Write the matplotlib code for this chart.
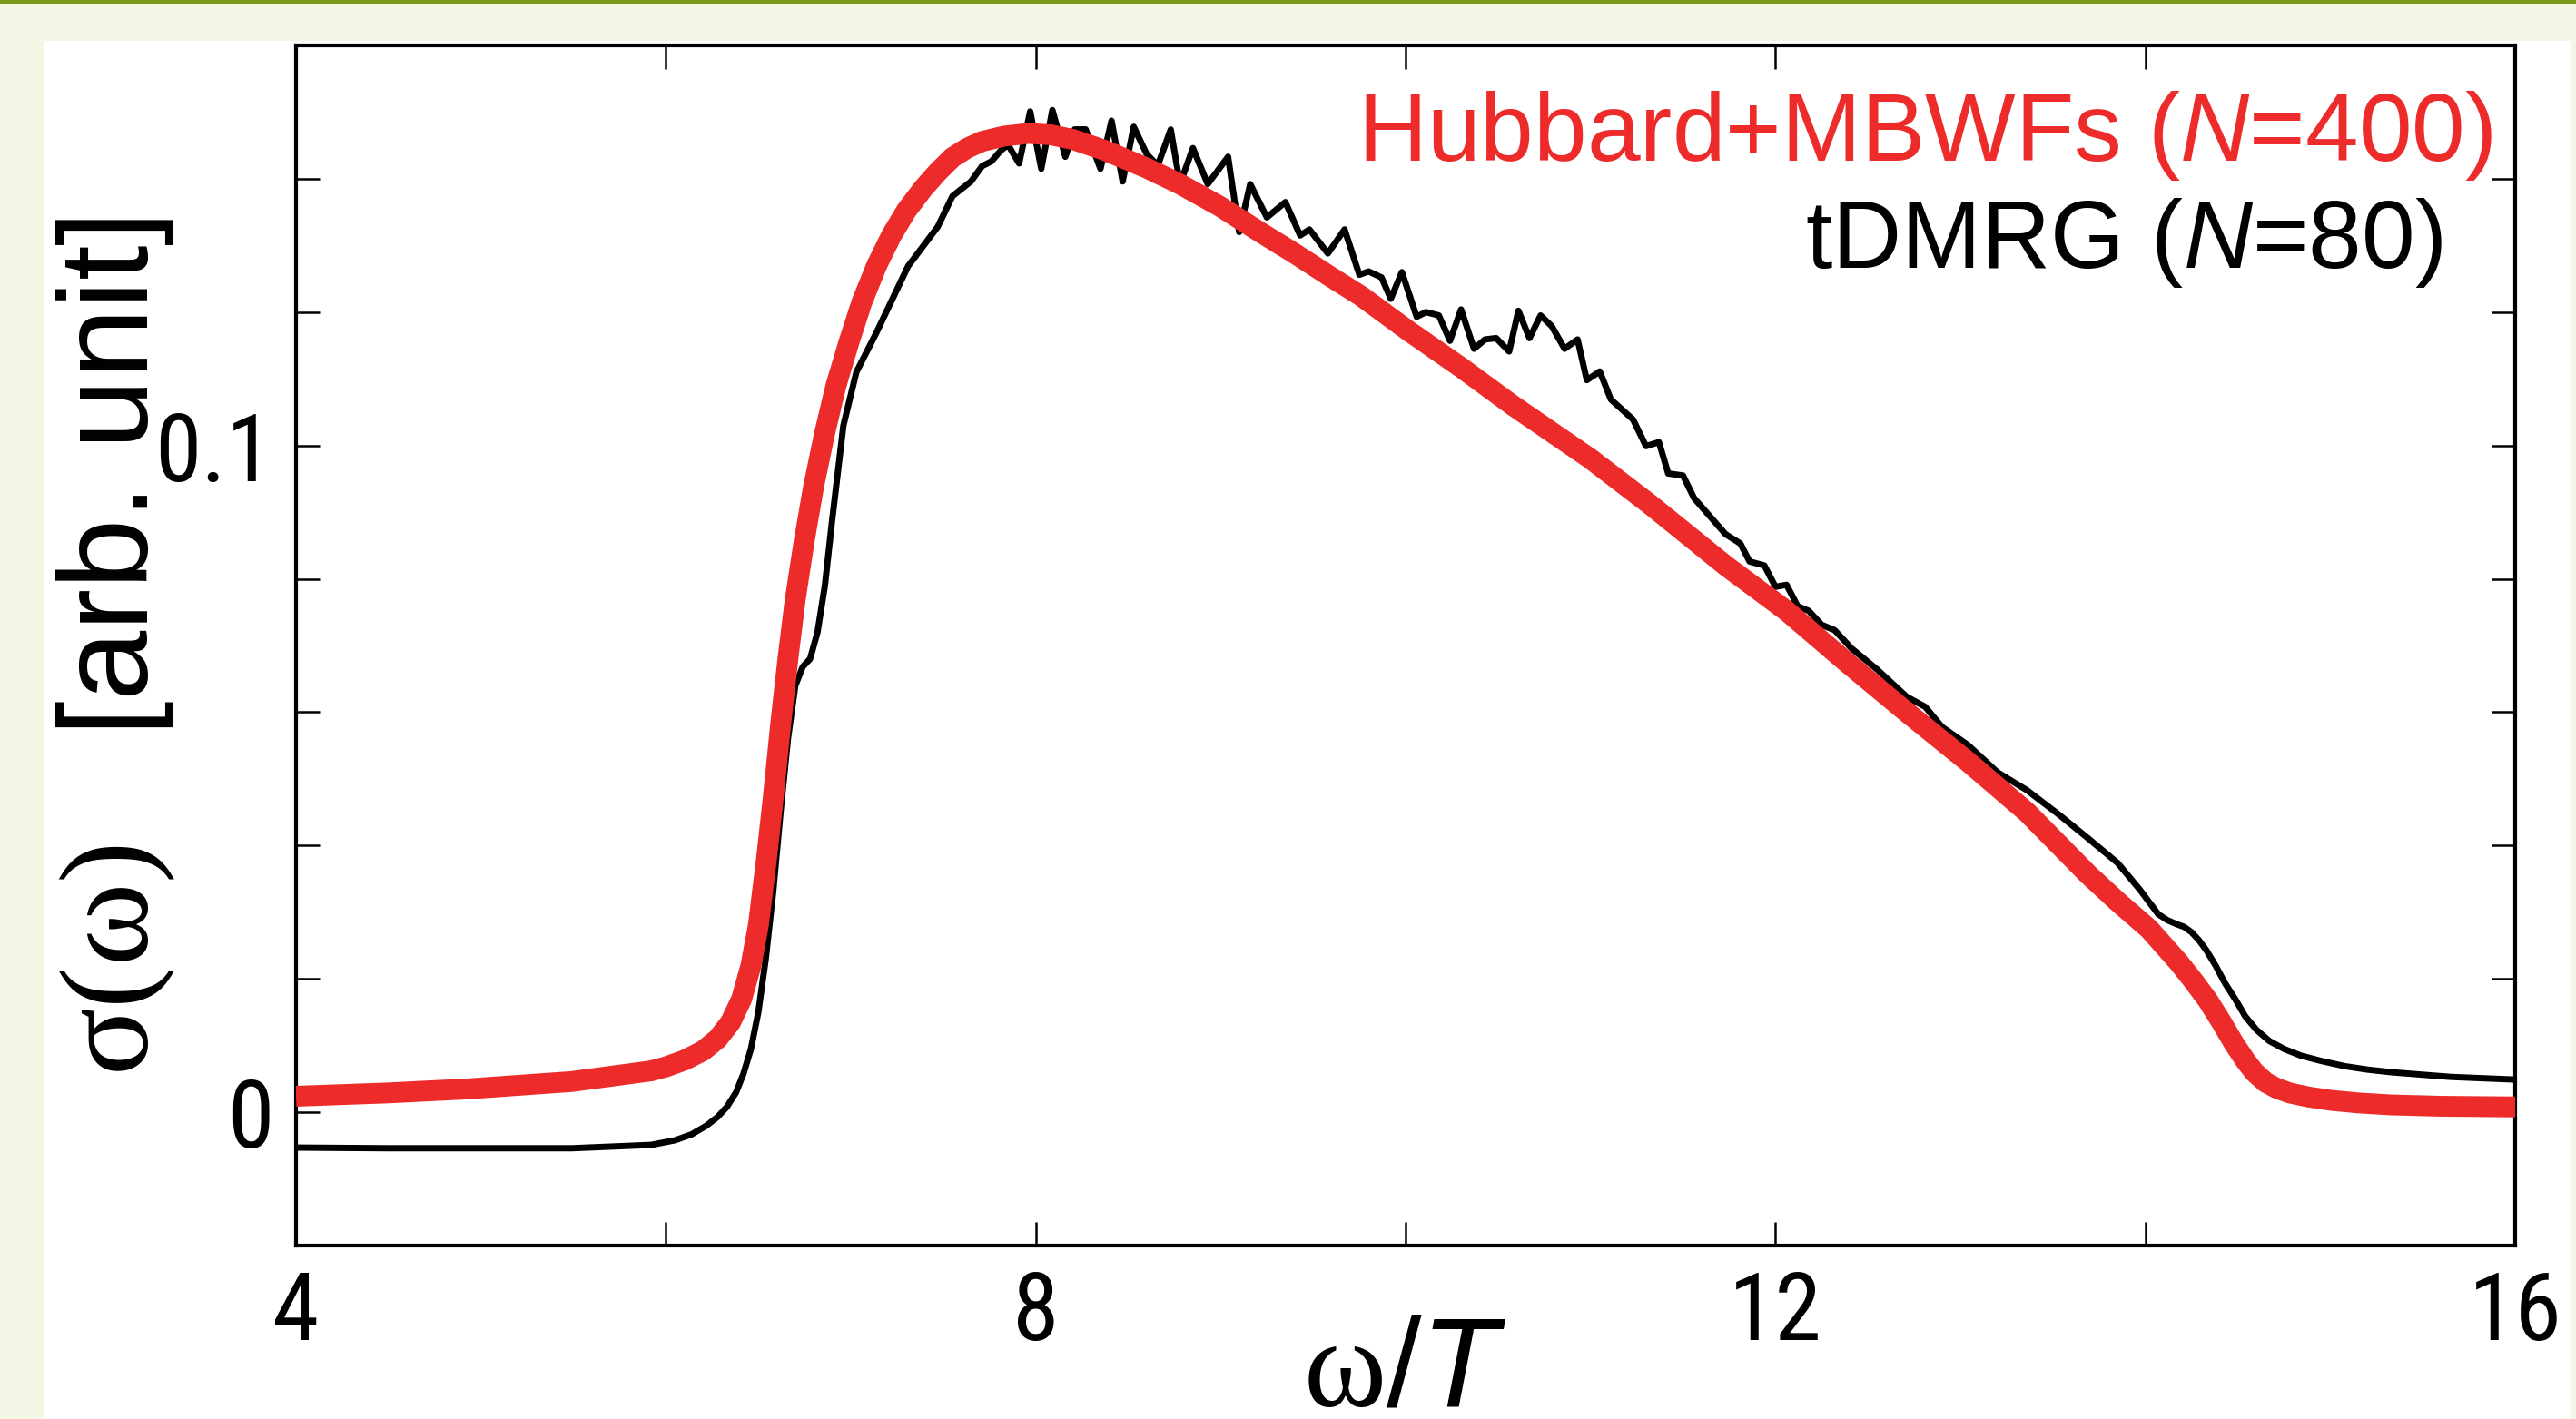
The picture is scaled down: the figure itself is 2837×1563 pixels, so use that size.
import matplotlib
matplotlib.use("Agg")
import matplotlib.pyplot as plt
from matplotlib import font_manager as fm
from matplotlib.patches import Rectangle
from matplotlib.ticker import FixedLocator, NullFormatter

# ---------------- data ----------------
hub_w = [4.0, 4.5, 4.93, 5.49, 5.92, 6.0, 6.1, 6.2, 6.28, 6.35, 6.41, 6.46, 6.50,
         6.54, 6.58, 6.62, 6.66, 6.70, 6.75, 6.80, 6.86, 6.92, 6.99, 7.06, 7.14,
         7.22, 7.30, 7.39, 7.47, 7.55, 7.63, 7.71, 7.83, 7.96, 8.08, 8.2, 8.37,
         8.6, 8.78, 9.0, 9.19, 9.4, 9.60, 9.76, 10.01, 10.3, 10.58, 11.0, 11.32,
         11.73, 12.06, 12.38, 12.71, 13.04, 13.36, 13.69, 13.85, 14.02, 14.18,
         14.26, 14.34, 14.41, 14.48, 14.54, 14.59, 14.65, 14.71, 14.78, 14.88,
         15.0, 15.15, 15.33, 15.6, 16.0]
hub_s = [0.0024, 0.0029, 0.0035, 0.0046, 0.0062, 0.0068, 0.0078, 0.0092, 0.0110,
         0.0135, 0.0170, 0.0220, 0.0280, 0.0370, 0.0470, 0.0580, 0.0680, 0.0770,
         0.0860, 0.0940, 0.1020, 0.1090, 0.1155, 0.1215, 0.1270, 0.1315, 0.1352,
         0.1385, 0.1410, 0.1432, 0.1446, 0.1456, 0.1464, 0.1468, 0.1466, 0.1459,
         0.1443, 0.1416, 0.1392, 0.1358, 0.1324, 0.1288, 0.1252, 0.1224, 0.1173,
         0.1117, 0.1060, 0.0980, 0.0912, 0.0820, 0.0752, 0.0676, 0.0600, 0.0526,
         0.0450, 0.0357, 0.0316, 0.0275, 0.0225, 0.0197, 0.0167, 0.0136, 0.0103,
         0.0078, 0.0060, 0.0045, 0.0036, 0.0029, 0.0023, 0.0018, 0.0014, 0.0011,
         0.0009, 0.0008]

dmrg_w = [4.0, 4.5, 5.0, 5.49, 5.92, 6.05, 6.14, 6.22, 6.28, 6.33, 6.38, 6.42,
          6.46, 6.50, 6.54, 6.58, 6.62, 6.66, 6.70, 6.74, 6.78, 6.82, 6.86, 6.90,
          6.96, 7.03, 7.14, 7.31, 7.47, 7.55,
          7.65, 7.71, 7.76, 7.81, 7.85, 7.91, 7.97, 8.03, 8.09, 8.16, 8.21, 8.27,
          8.35, 8.41, 8.47, 8.53, 8.60, 8.66, 8.73, 8.78, 8.85, 8.93, 9.04, 9.10,
          9.16, 9.25, 9.35, 9.43, 9.48, 9.58, 9.67, 9.75, 9.80, 9.87, 9.92, 9.98,
          10.06, 10.11, 10.18, 10.24, 10.30, 10.37, 10.43, 10.49, 10.56, 10.61,
          10.67, 10.73, 10.79, 10.86, 10.93, 10.98, 11.05, 11.11, 11.23, 11.30,
          11.37, 11.42, 11.50, 11.56, 11.73, 11.81, 11.86, 11.94, 12.00, 12.06,
          12.12, 12.18, 12.25, 12.32, 12.41, 12.55, 12.71, 12.81, 12.90, 13.04,
          13.20, 13.36, 13.53, 13.69, 13.85, 13.97, 14.07, 14.12, 14.17, 14.21,
          14.25, 14.29, 14.33, 14.38, 14.43, 14.49, 14.54, 14.60, 14.67, 14.75,
          14.84, 14.95, 15.08, 15.2, 15.33, 15.65, 16.0]
dmrg_s = [-0.0053, -0.0054, -0.0054, -0.0054, -0.0049, -0.0042, -0.0033, -0.0020,
          -0.0007, 0.0008, 0.0030, 0.0058, 0.0095, 0.0150, 0.0230, 0.0330, 0.0450,
          0.0560, 0.0640, 0.0668, 0.0680, 0.0720, 0.0790, 0.0890, 0.1030, 0.1110,
          0.1170, 0.1269, 0.1328, 0.1374,
          0.1396, 0.1419, 0.1426, 0.1442, 0.1451, 0.1423, 0.1501, 0.1415, 0.1503,
          0.1433, 0.1474, 0.1474, 0.1415, 0.1487, 0.1396, 0.1478, 0.1437, 0.1420,
          0.1474, 0.1392, 0.1446, 0.1392, 0.1433, 0.1320, 0.1392, 0.1342, 0.1365,
          0.1315, 0.1324, 0.1288, 0.1324, 0.1256, 0.1261, 0.1252, 0.1220, 0.1260,
          0.1193, 0.1200, 0.1195, 0.1157, 0.1204, 0.1145, 0.1159, 0.1161, 0.1141,
          0.1202, 0.1161, 0.1195, 0.1179, 0.1145, 0.1159, 0.1098, 0.1111, 0.1069,
          0.1039, 0.0999, 0.1005, 0.0958, 0.0955, 0.0921, 0.0867, 0.0853, 0.0826,
          0.0820, 0.0788, 0.0791, 0.0759, 0.0752, 0.0731, 0.0723, 0.0696, 0.0664,
          0.0623, 0.0608, 0.0578, 0.0551, 0.0510, 0.0483, 0.0447, 0.0411, 0.0374,
          0.0334, 0.0297, 0.0288, 0.0282, 0.0278, 0.0270, 0.0258, 0.0243, 0.0220,
          0.0194, 0.0168, 0.0144, 0.0124, 0.0107, 0.0095, 0.0085, 0.0077, 0.0069,
          0.0064, 0.0060, 0.0053, 0.0049]

x_major = [4, 8, 12, 16]
x_minor = [6, 10, 14]
y_major = [0, 0.1]
y_major_labels = ["0", "0.1"]
y_minor = [0.02, 0.04, 0.06, 0.08, 0.12, 0.14]
label_hub = r"Hubbard+MBWFs ($\mathit{N}$=400)"
label_dmrg = r"tDMRG ($\mathit{N}$=80)"
xlabel = r"$\mathrm{\omega}\mathsf{/}\mathit{T}$"
ylabel = r"$\mathrm{\sigma(\omega)}$   [arb. unit]"

# ---------------- style ----------------
RED = "#EC2B2A"
plt.rcParams["mathtext.fontset"] = "custom"
plt.rcParams["mathtext.rm"] = "Liberation Serif"
plt.rcParams["mathtext.it"] = "Liberation Sans:italic"
plt.rcParams["mathtext.sf"] = "Liberation Sans"
plt.rcParams["font.family"] = ["Liberation Sans", "DejaVu Sans"]


def find_narrow():
    prefs = ["liberation sans narrow", "roboto condensed", "open sans condensed",
             "noto sans condensed"]
    found = {}
    for f in fm.fontManager.ttflist:
        key = f.name.lower()
        fn = f.fname.lower()
        if f.style != "normal" or f.weight not in (400, "normal", "regular"):
            continue
        if "bold" in fn or "italic" in fn or "light" in fn or "medium" in fn:
            continue
        for p in prefs:
            if key == p or p.replace(" ", "") in fn.replace("-", "").replace("_", ""):
                found.setdefault(p, f.fname)
    for p in prefs:
        if p in found:
            return found[p]
    return None


narrow = find_narrow()
if narrow:
    tick_fp = fm.FontProperties(fname=narrow, size=75)
else:
    tick_fp = fm.FontProperties(family="Liberation Sans", size=70)

W, H = 2837, 1563
fig = plt.figure(figsize=(W / 100, H / 100), dpi=100)
fig.patch.set_facecolor("#F1F6E5")
fig.patches.append(Rectangle((48 / W, 0), (2832 - 48) / W, (H - 45) / H,
                             transform=fig.transFigure, facecolor="white",
                             edgecolor="none", zorder=-2))
fig.patches.append(Rectangle((0, 1 - 4 / H), 1, 4 / H, transform=fig.transFigure,
                             facecolor="#7A9A1F", edgecolor="none", zorder=-2))

ax = fig.add_axes([326 / W, (H - 1372) / H, (2770 - 326) / W, (1372 - 50) / H])
ax.set_facecolor("white")

ax.plot(dmrg_w, dmrg_s, color="black", lw=5, zorder=2)
ax.plot(hub_w, hub_s, color=RED, lw=16.5, zorder=3, solid_capstyle="butt",
        solid_joinstyle="round")

ax.set_xlim(4, 16)
ax.set_ylim(-0.02, 0.16)

ax.xaxis.set_major_locator(FixedLocator(x_major))
ax.xaxis.set_minor_locator(FixedLocator(x_minor))
ax.yaxis.set_major_locator(FixedLocator(y_major))
ax.yaxis.set_minor_locator(FixedLocator(y_minor))
ax.set_xticklabels([str(v) for v in x_major])
ax.set_yticklabels(y_major_labels)
ax.xaxis.set_minor_formatter(NullFormatter())
ax.yaxis.set_minor_formatter(NullFormatter())

for which in ("major", "minor"):
    ax.tick_params(axis="both", which=which, direction="in", length=19, width=1.8,
                   top=True, right=True, color="black")
ax.tick_params(axis="x", which="major", pad=19)
ax.tick_params(axis="y", which="major", pad=18)
for lab in ax.get_xticklabels() + ax.get_yticklabels():
    lab.set_fontproperties(tick_fp)

for sp in ax.spines.values():
    sp.set_linewidth(3.0)

# legend-like labels
fig.text(2745 / W, 1 - 177 / H, label_hub, color=RED, fontsize=76,
         ha="right", va="baseline")
fig.text(2690 / W, 1 - 295 / H, label_dmrg, color="black", fontsize=76,
         ha="right", va="baseline")

# axis labels
fig.text(1548 / W, 1 - 1548 / H, xlabel, fontsize=100, ha="center", va="baseline")
fig.text(128 / W, 1 - 712 / H, ylabel, fontsize=100, rotation=90,
         ha="center", va="center")

fig.savefig("out.png", dpi=100, facecolor=fig.get_facecolor())
